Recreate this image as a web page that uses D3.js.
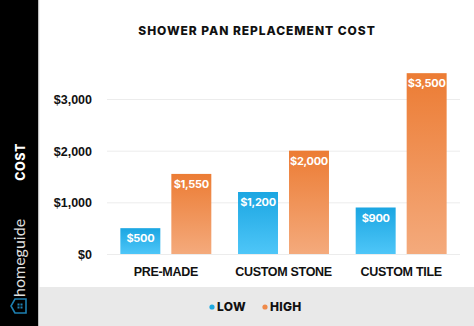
<!DOCTYPE html>
<html><head><meta charset="utf-8">
<script src="https://cdn.jsdelivr.net/npm/d3@7"></script>
<style>
html,body{margin:0;padding:0;background:#fff;}
svg{display:block;font-family:"Inter","Lato",sans-serif;}
</style></head>
<body>
<svg id="c" width="474" height="326"></svg>
<script>
const categories = ["PRE-MADE", "CUSTOM STONE", "CUSTOM TILE"];
const series = ["LOW", "HIGH"];
const lowValues = [500, 1200, 900];
const highValues = [1550, 2000, 3500];
const valueLabels = {LOW: ["$500", "$1,200", "$900"], HIGH: ["$1,550", "$2,000", "$3,500"]};
const yTicks = [0, 1000, 2000, 3000];
const yTickLabels = ["$0", "$1,000", "$2,000", "$3,000"];
const title = "SHOWER PAN REPLACEMENT COST";
const yTitle = "COST";
const brand = "homeguide";

const svg = d3.select("#c");
const W = 474, H = 326;

const defs = svg.append("defs");
const gB = defs.append("linearGradient").attr("id","gLow").attr("x1",0).attr("y1",0).attr("x2",0).attr("y2",1);
gB.append("stop").attr("offset","0%").attr("stop-color","#1ba6e2");
gB.append("stop").attr("offset","100%").attr("stop-color","#4ec6f8");
const gO = defs.append("linearGradient").attr("id","gHigh").attr("x1",0).attr("y1",0).attr("x2",0).attr("y2",1);
gO.append("stop").attr("offset","0%").attr("stop-color","#ec7c34");
gO.append("stop").attr("offset","100%").attr("stop-color","#f4aa7c");

// sidebar
svg.append("rect").attr("x",0).attr("y",0).attr("width",38).attr("height",H).attr("fill","#000");
svg.append("rect").attr("x",38).attr("y",0).attr("width",1.2).attr("height",H).attr("fill","#bdbdbd");
// legend band
svg.append("rect").attr("x",39).attr("y",287).attr("width",W-39).attr("height",H-287).attr("fill","#e9e9e9");

const y = d3.scaleLinear().domain([0, 3000]).range([254, 99]);
const x0 = d3.scaleBand().domain(categories).range([107, 460]).paddingInner(0.227).paddingOuter(0.1135);
const x1 = d3.scaleBand().domain(series).range([0, x0.bandwidth()]).paddingInner(0.216).paddingOuter(0);

// gridlines
const yAxis = d3.axisLeft(y).tickValues(yTicks).tickSize(-(460-107)).tickFormat((d,i)=>yTickLabels[i]);
const ga = svg.append("g").attr("transform","translate(107,0)").call(yAxis);
ga.select(".domain").remove();
ga.selectAll(".tick line").attr("stroke","#ececec").attr("stroke-width",1);
ga.selectAll(".tick text").attr("x",-15).attr("font-size",12.5).attr("font-weight",700).attr("fill","#111").attr("dy","0.35em");

// x axis labels
const xAxis = d3.axisBottom(x0).tickSize(0);
const gx = svg.append("g").attr("transform","translate(0,262)").call(xAxis);
gx.select(".domain").remove();
gx.selectAll(".tick text").attr("font-size",12.5).attr("font-weight",700).attr("fill","#111").attr("dy","0.9em").attr("letter-spacing","-0.3");

const rows = categories.map((c,i)=>({cat:c, LOW:lowValues[i], HIGH:highValues[i], i}));
const groups = svg.append("g").selectAll("g").data(rows).join("g").attr("transform",d=>`translate(${x0(d.cat)},0)`);
groups.selectAll("rect").data(d=>series.map(s=>({s, v:d[s], i:d.i}))).join("rect")
  .attr("x",d=>x1(d.s)).attr("width",x1.bandwidth())
  .attr("y",d=>y(d.v)).attr("height",d=>y(0)-y(d.v))
  .attr("fill",d=>d.s==="LOW"?"url(#gLow)":"url(#gHigh)");
groups.selectAll("text.val").data(d=>series.map(s=>({s, v:d[s], i:d.i}))).join("text").attr("class","val")
  .attr("x",d=>x1(d.s)+x1.bandwidth()/2).attr("y",d=>y(d.v)+14)
  .attr("text-anchor","middle").attr("font-size",11).attr("font-weight",700).attr("fill","#fff")
  .attr("letter-spacing","-0.3")
  .text(d=>valueLabels[d.s][d.i]);

// title
svg.append("text").attr("x",257).attr("y",35).attr("text-anchor","middle")
  .attr("font-size",12).attr("font-weight",800).attr("fill","#111").attr("letter-spacing","0.95").text(title);

// y title
svg.append("text").attr("transform","translate(25,162) rotate(-90)").attr("text-anchor","middle")
  .attr("font-size",12.5).attr("font-weight",800).attr("fill","#fff").attr("letter-spacing","0.5").text(yTitle);

// brand
svg.append("text").attr("transform","translate(25,297) rotate(-90)").attr("text-anchor","start")
  .attr("font-size",16).attr("font-weight",400).attr("fill","#e0e0e0").attr("font-family","Lato, sans-serif").text(brand);
// house icon
const hi = svg.append("g").attr("transform","translate(20,306)");
hi.append("path").attr("d","M-7,-5 L0,-9 L7,-5 L7,6 L-7,6 Z").attr("fill","none").attr("stroke","#1d7fb0").attr("stroke-width",1.6).attr("transform","rotate(-90)");
[[-2,-2],[1,-2],[-2,1],[1,1]].forEach(p=>hi.append("rect").attr("x",p[0]-0.5).attr("y",p[1]-0.5).attr("width",2).attr("height",2).attr("fill","#1d7fb0"));

// legend
const legend = [{s:"LOW", c:"#1ea9e1", x:212},{s:"HIGH", c:"#ef8a4a", x:265}];
const lg = svg.append("g").selectAll("g").data(legend).join("g").attr("transform",d=>`translate(${d.x},307)`);
lg.append("circle").attr("r",2.6).attr("fill",d=>d.c);
lg.append("text").attr("x",5).attr("dy","0.36em").attr("font-size",12).attr("font-weight",800).attr("fill","#111").attr("letter-spacing","0.3").text(d=>d.s);
</script>
</body></html>
